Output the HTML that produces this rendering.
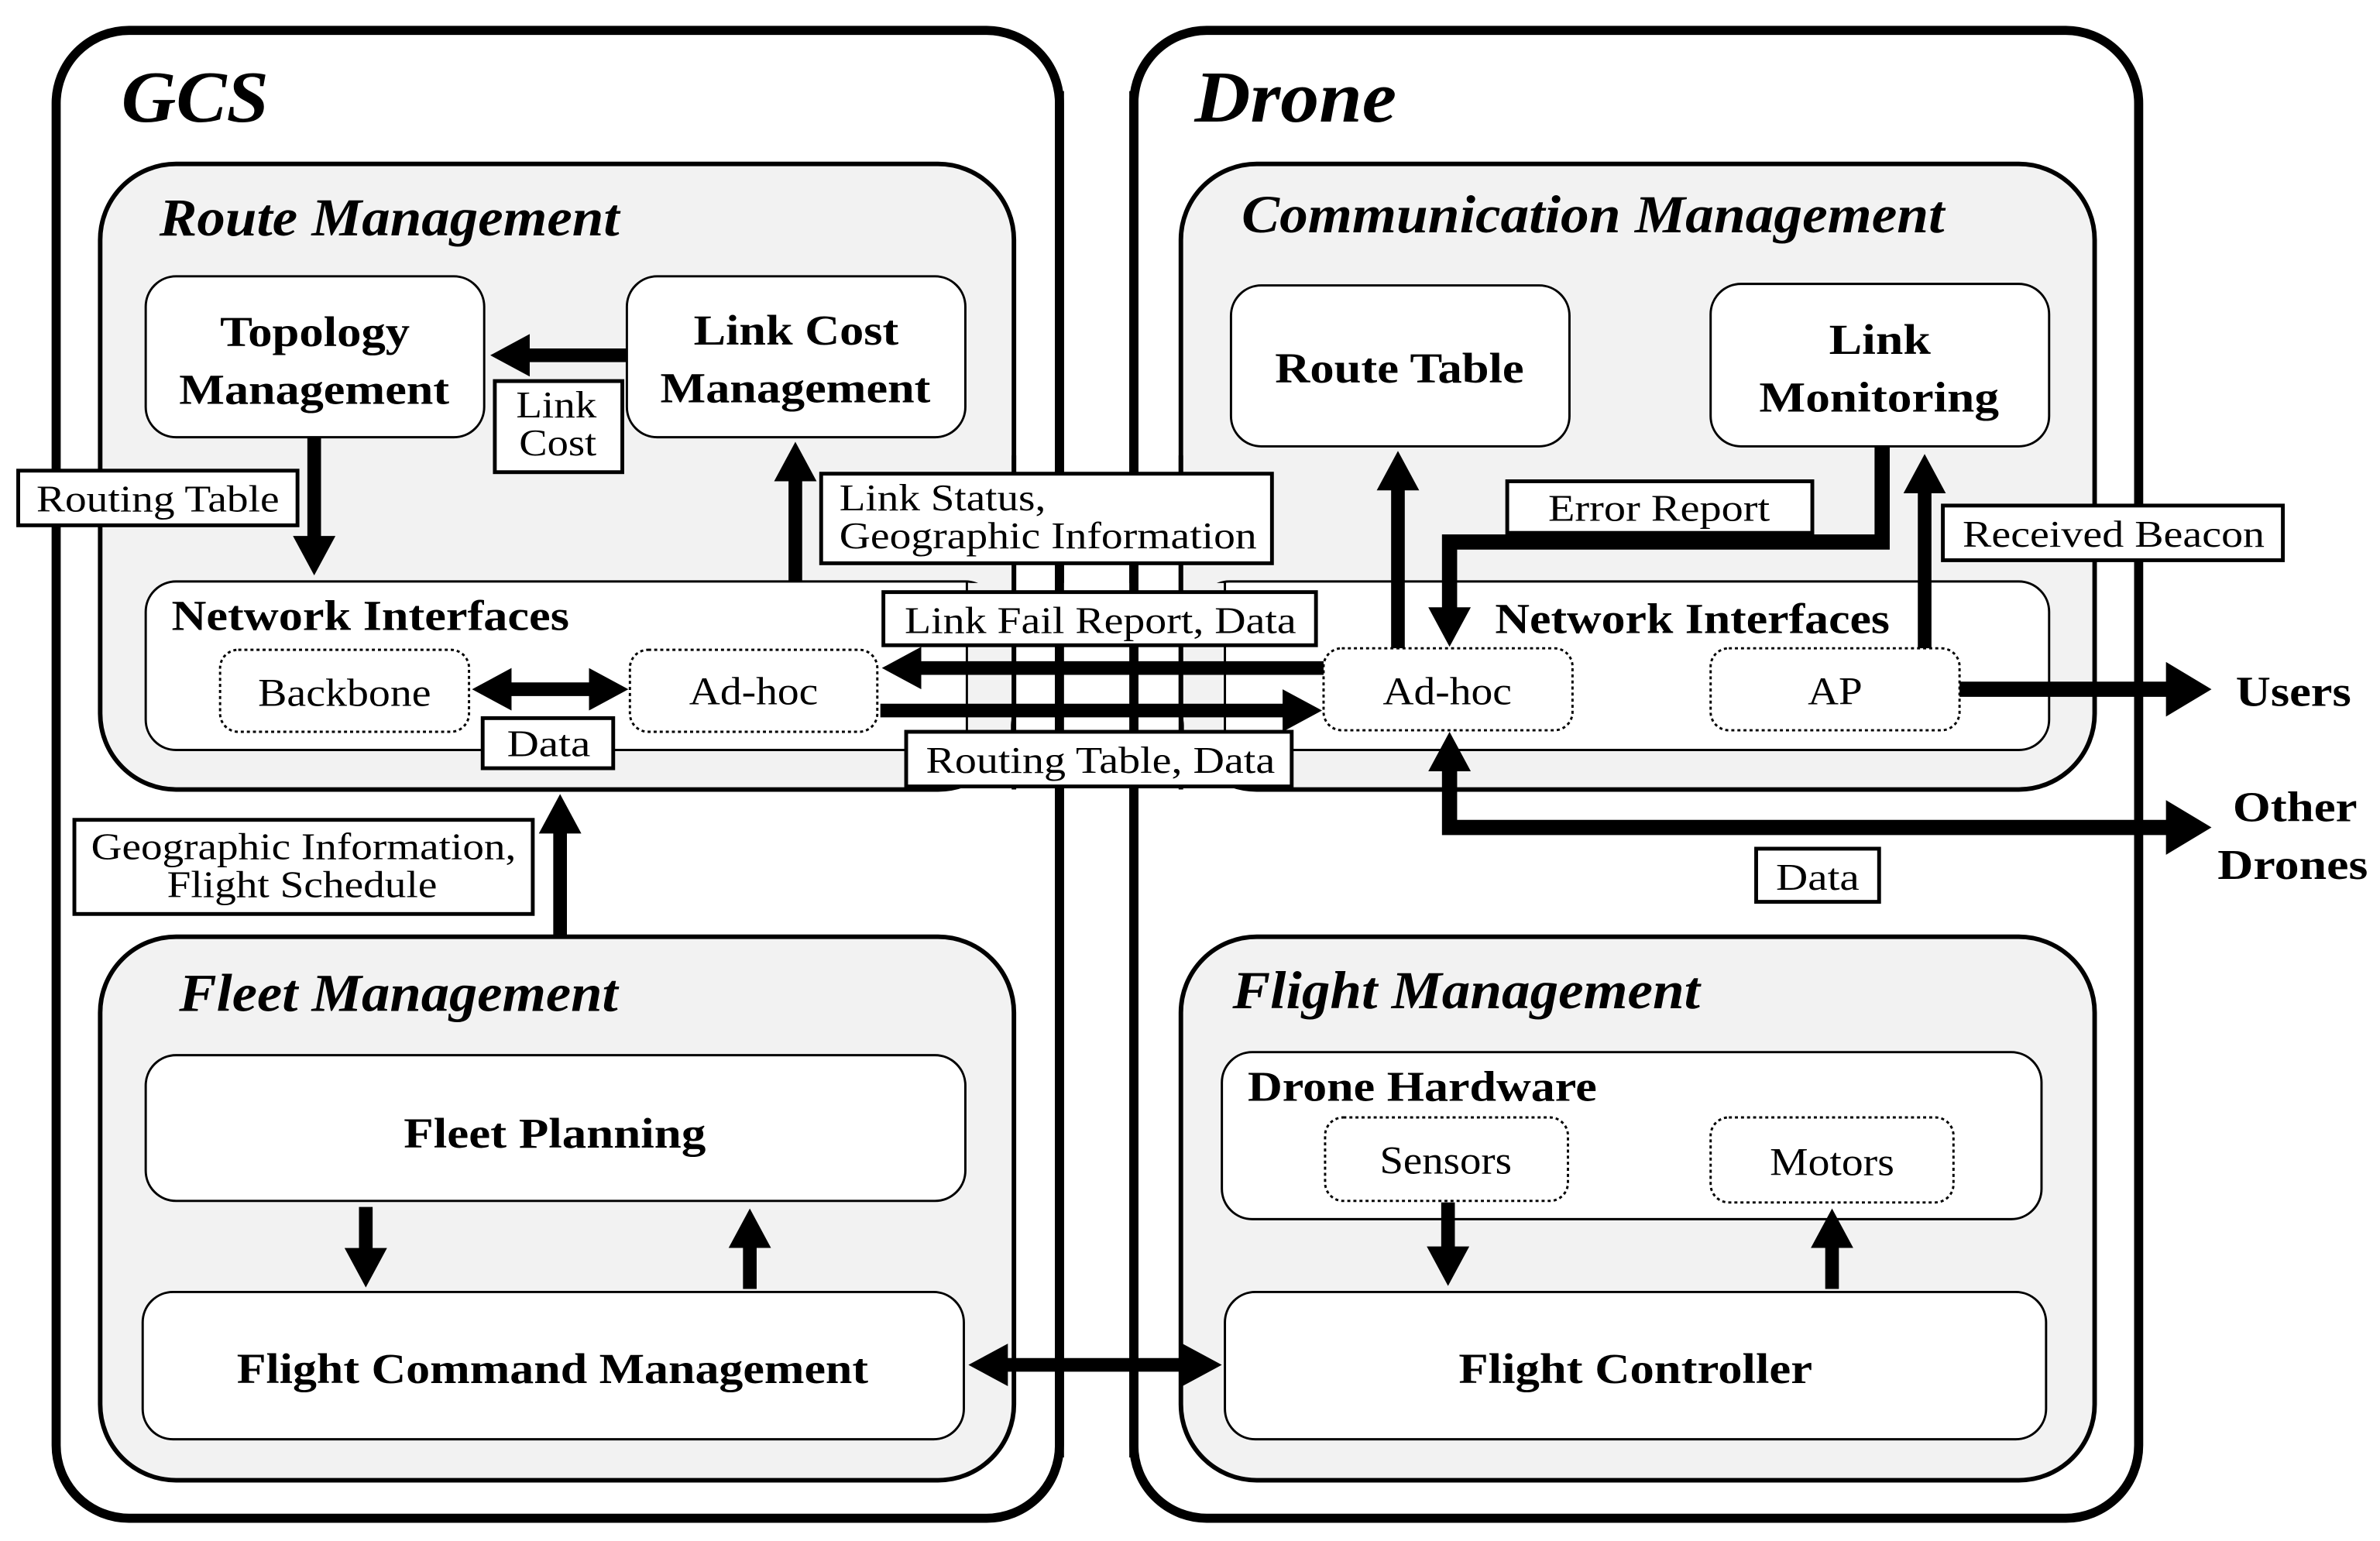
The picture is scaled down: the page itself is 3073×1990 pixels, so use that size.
<!DOCTYPE html>
<html><head><meta charset="utf-8"><style>
html,body{margin:0;padding:0;background:#fff}
svg{display:block}
text{font-family:"Liberation Serif","Times New Roman",serif;fill:#000}
.t{font-weight:bold;font-size:28px}
.l{font-size:25px}
.it{font-style:italic;font-size:35px}
</style></head><body>
<svg width="3073" height="1990" viewBox="0 0 1568 1015" preserveAspectRatio="none" xmlns="http://www.w3.org/2000/svg">
<defs>
<marker id="a" markerUnits="userSpaceOnUse" markerWidth="26" markerHeight="28" refX="1" refY="14" orient="auto-start-reverse"><path d="M0,0 L26,14 L0,28 z" fill="#000"/></marker>
<marker id="b" markerUnits="userSpaceOnUse" markerWidth="30" markerHeight="36" refX="1" refY="18" orient="auto-start-reverse"><path d="M0,0 L30,18 L0,36 z" fill="#000"/></marker>
</defs>
<rect x="37" y="20" width="661" height="980" rx="48" fill="#fff" stroke="#000" stroke-width="6"/>
<rect x="747" y="20" width="662" height="980" rx="48" fill="#fff" stroke="#000" stroke-width="6"/>
<text x="80" y="80" textLength="97" lengthAdjust="spacingAndGlyphs" style="font-weight:bold;font-style:italic;font-size:48px">GCS</text>
<text x="787" y="80" textLength="133" lengthAdjust="spacingAndGlyphs" style="font-weight:bold;font-style:italic;font-size:48px">Drone</text>
<rect x="66" y="108" width="602" height="412" rx="50" fill="#f2f2f2" stroke="#000" stroke-width="3"/>
<rect x="778" y="108" width="602" height="412" rx="50" fill="#f2f2f2" stroke="#000" stroke-width="3"/>
<rect x="66" y="617" width="602" height="358" rx="50" fill="#f2f2f2" stroke="#000" stroke-width="3"/>
<rect x="778" y="617" width="602" height="358" rx="50" fill="#f2f2f2" stroke="#000" stroke-width="3"/>
<g class="it" style="font-weight:bold">
<text x="105" y="155" textLength="303" lengthAdjust="spacingAndGlyphs">Route Management</text>
<text x="818" y="153" textLength="463" lengthAdjust="spacingAndGlyphs">Communication Management</text>
<text x="118" y="666" textLength="289" lengthAdjust="spacingAndGlyphs">Fleet Management</text>
<text x="812" y="664" textLength="308" lengthAdjust="spacingAndGlyphs">Flight Management</text>
</g>
<g fill="#fff" stroke="#000" stroke-width="1.5">
<rect x="96" y="182" width="223" height="106" rx="20"/>
<rect x="413" y="182" width="223" height="106" rx="20"/>
<rect x="96" y="383" width="560" height="111" rx="20"/>
<rect x="811" y="188" width="223" height="106" rx="20"/>
<rect x="1127" y="187" width="223" height="107" rx="20"/>
<rect x="790" y="383" width="560" height="111" rx="20"/>
<rect x="96" y="695" width="540" height="96" rx="20"/>
<rect x="94" y="851" width="541" height="97" rx="20"/>
<rect x="805" y="693" width="540" height="110" rx="20"/>
<rect x="807" y="851" width="541" height="97" rx="20"/>
</g>
<g stroke="#000" fill="none">
<line x1="637" y1="383" x2="637" y2="494" stroke-width="1.5"/>
<line x1="807" y1="383" x2="807" y2="494" stroke-width="1.5"/>
<rect x="638" y="384" width="28" height="109" fill="#f2f2f2" stroke="none"/>
<rect x="780" y="384" width="26" height="109" fill="#f2f2f2" stroke="none"/>
<rect x="699" y="384" width="46" height="109" fill="#fff" stroke="none"/>
<line x1="668" y1="300" x2="668" y2="520" stroke-width="3"/>
<line x1="778" y1="300" x2="778" y2="520" stroke-width="3"/>
<line x1="698" y1="60" x2="698" y2="960" stroke-width="6"/>
<line x1="747" y1="60" x2="747" y2="960" stroke-width="6"/>
</g>
<g fill="#fff" stroke="#000" stroke-width="1.5" stroke-dasharray="2,2">
<rect x="145" y="428" width="164" height="54" rx="12"/>
<rect x="415" y="428" width="163" height="54" rx="12"/>
<rect x="872" y="427" width="164" height="54" rx="12"/>
<rect x="1127" y="427" width="164" height="54" rx="12"/>
<rect x="873" y="736" width="160" height="55" rx="12"/>
<rect x="1127" y="736" width="160" height="56" rx="12"/>
</g>
<g class="t">
<text x="145" y="228" textLength="125" lengthAdjust="spacingAndGlyphs">Topology</text>
<text x="118" y="266" textLength="178" lengthAdjust="spacingAndGlyphs">Management</text>
<text x="457" y="227" textLength="135" lengthAdjust="spacingAndGlyphs">Link Cost</text>
<text x="435" y="265" textLength="178" lengthAdjust="spacingAndGlyphs">Management</text>
<text x="113" y="415" textLength="262" lengthAdjust="spacingAndGlyphs">Network Interfaces</text>
<text x="840" y="252" textLength="164" lengthAdjust="spacingAndGlyphs">Route Table</text>
<text x="1205" y="233" textLength="67" lengthAdjust="spacingAndGlyphs">Link</text>
<text x="1159" y="271" textLength="158" lengthAdjust="spacingAndGlyphs">Monitoring</text>
<text x="985" y="417" textLength="260" lengthAdjust="spacingAndGlyphs">Network Interfaces</text>
<text x="266" y="756" textLength="199" lengthAdjust="spacingAndGlyphs">Fleet Planning</text>
<text x="156" y="911" textLength="416" lengthAdjust="spacingAndGlyphs">Flight Command Management</text>
<text x="822" y="725" textLength="230" lengthAdjust="spacingAndGlyphs">Drone Hardware</text>
<text x="961" y="911" textLength="233" lengthAdjust="spacingAndGlyphs">Flight Controller</text>
<text x="1473" y="465" textLength="76" lengthAdjust="spacingAndGlyphs">Users</text>
<text x="1471" y="541" textLength="82" lengthAdjust="spacingAndGlyphs">Other</text>
<text x="1461" y="579" textLength="99" lengthAdjust="spacingAndGlyphs">Drones</text>
</g>
<g class="l" style="font-size:26px">
<text x="170" y="465" textLength="114" lengthAdjust="spacingAndGlyphs">Backbone</text>
<text x="454" y="464" textLength="85" lengthAdjust="spacingAndGlyphs">Ad-hoc</text>
<text x="911" y="464" textLength="85" lengthAdjust="spacingAndGlyphs">Ad-hoc</text>
<text x="1191" y="464" textLength="36" lengthAdjust="spacingAndGlyphs">AP</text>
<text x="909" y="773" textLength="87" lengthAdjust="spacingAndGlyphs">Sensors</text>
<text x="1166" y="774" textLength="82" lengthAdjust="spacingAndGlyphs">Motors</text>
</g>
<g stroke="#000" fill="none" stroke-width="9">
<line x1="413" y1="234" x2="348" y2="234" marker-end="url(#a)"/>
<line x1="207" y1="288" x2="207" y2="354" marker-end="url(#a)"/>
<line x1="524" y1="383" x2="524" y2="316" marker-end="url(#a)"/>
<line x1="336" y1="454" x2="389" y2="454" marker-start="url(#a)" marker-end="url(#a)"/>
<line x1="872" y1="440" x2="606" y2="440" marker-end="url(#a)"/>
<line x1="580" y1="468" x2="846" y2="468" marker-end="url(#a)"/>
<line x1="921" y1="427" x2="921" y2="322" marker-end="url(#a)"/>
<line x1="1268" y1="427" x2="1268" y2="324" marker-end="url(#a)"/>
<polyline points="1240,294 1240,357 955,357 955,401" marker-end="url(#a)" stroke-width="10"/>
<line x1="1291" y1="454" x2="1428" y2="454" stroke-width="10" marker-end="url(#b)"/>
<polyline points="955,507 955,545 1428,545" stroke-width="10" marker-start="url(#a)" marker-end="url(#b)"/>
<line x1="369" y1="617" x2="369" y2="548" marker-end="url(#a)"/>
<line x1="241" y1="795" x2="241" y2="823" marker-end="url(#a)"/>
<line x1="494" y1="849" x2="494" y2="821" marker-end="url(#a)"/>
<line x1="954" y1="792" x2="954" y2="822" marker-end="url(#a)"/>
<line x1="1207" y1="849" x2="1207" y2="821" marker-end="url(#a)"/>
<line x1="663" y1="899" x2="780" y2="899" marker-start="url(#a)" marker-end="url(#a)"/>
</g>
<g fill="#fff" stroke="#000" stroke-width="2.5">
<rect x="326" y="251" width="84" height="60"/>
<rect x="12" y="310" width="184" height="36"/>
<rect x="541" y="312" width="297" height="59"/>
<rect x="318" y="473" width="86" height="33"/>
<rect x="582" y="390" width="285" height="35"/>
<rect x="597" y="482" width="254" height="36"/>
<rect x="993" y="317" width="201" height="34"/>
<rect x="1280" y="333" width="224" height="36"/>
<rect x="1157" y="559" width="81" height="35"/>
<rect x="49" y="540" width="302" height="62"/>
</g>
<g class="l">
<text x="340" y="275" textLength="53" lengthAdjust="spacingAndGlyphs">Link</text>
<text x="342" y="300" textLength="51" lengthAdjust="spacingAndGlyphs">Cost</text>
<text x="24" y="337" textLength="160" lengthAdjust="spacingAndGlyphs">Routing Table</text>
<text x="553" y="336" textLength="136" lengthAdjust="spacingAndGlyphs">Link Status,</text>
<text x="553" y="361" textLength="275" lengthAdjust="spacingAndGlyphs">Geographic Information</text>
<text x="334" y="498" textLength="55" lengthAdjust="spacingAndGlyphs">Data</text>
<text x="596" y="417" textLength="258" lengthAdjust="spacingAndGlyphs">Link Fail Report, Data</text>
<text x="610" y="509" textLength="230" lengthAdjust="spacingAndGlyphs">Routing Table, Data</text>
<text x="1020" y="343" textLength="146" lengthAdjust="spacingAndGlyphs">Error Report</text>
<text x="1293" y="360" textLength="199" lengthAdjust="spacingAndGlyphs">Received Beacon</text>
<text x="1170" y="586" textLength="55" lengthAdjust="spacingAndGlyphs">Data</text>
<text x="60" y="566" textLength="280" lengthAdjust="spacingAndGlyphs">Geographic Information,</text>
<text x="110" y="591" textLength="178" lengthAdjust="spacingAndGlyphs">Flight Schedule</text>
</g>
</svg>
</body></html>
